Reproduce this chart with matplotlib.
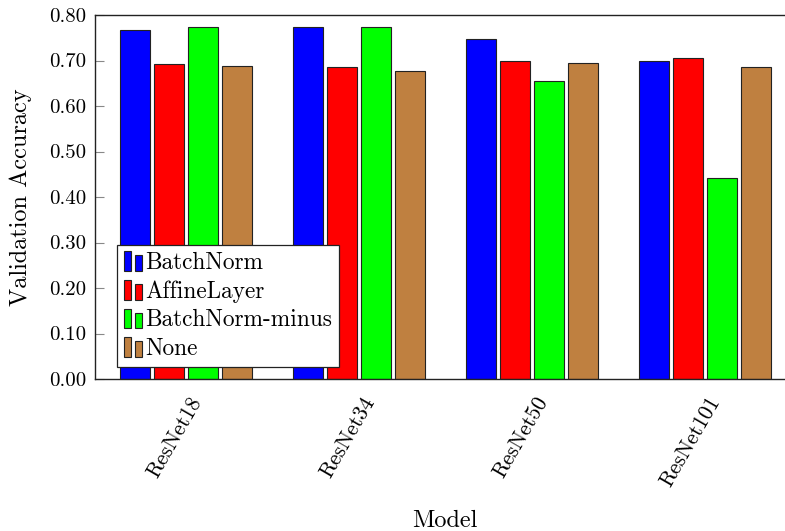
import matplotlib
matplotlib.use("Agg")
import matplotlib.pyplot as plt
import numpy as np
from matplotlib.patches import Rectangle
from matplotlib.legend_handler import HandlerBase
from matplotlib.transforms import ScaledTranslation

plt.rcParams['font.family'] = ['cmr10', 'DejaVu Serif']
plt.rcParams['axes.formatter.use_mathtext'] = True

models = ["ResNet18", "ResNet34", "ResNet50", "ResNet101"]
series_names = ["BatchNorm", "AffineLayer", "BatchNorm-minus", "None"]
batchnorm = [0.768, 0.773, 0.748, 0.698]
affine = [0.692, 0.686, 0.700, 0.705]
bn_minus = [0.774, 0.773, 0.656, 0.442]
none = [0.689, 0.678, 0.695, 0.686]
yticks = [0.0, 0.1, 0.2, 0.3, 0.4, 0.5, 0.6, 0.7, 0.8]
colors = ["#0000ff", "#ff0000", "#00ff00", "#bf8040"]

series = [batchnorm, affine, bn_minus, none]

fig = plt.figure(figsize=(7.85, 5.31), dpi=100)
ax = fig.add_axes([95/785, 1-379/531, (796-95)/785, (379-15)/531])

x = np.arange(len(models))
offset = 0.1965
width = 0.178
handles = []
for i, (vals, name, c) in enumerate(zip(series, series_names, colors)):
    b = ax.bar(x + (i-1.5)*offset, vals, width, color=c, edgecolor='#222222',
               linewidth=0.8, label=name, zorder=2)
    handles.append(b)

ax.set_xlim(-0.526, 3.526)
ax.set_ylim(0, 0.8)
ax.set_yticks(yticks)
ax.set_yticklabels([f"{v:.2f}" for v in yticks], fontsize=15)
ax.set_xticks(x)
ax.set_xticklabels(models, fontsize=15.5, rotation=60, ha='right', va='center',
                   rotation_mode='anchor')
ax.tick_params(axis='x', length=0, pad=14)
ax.tick_params(axis='y', direction='in', length=6.5, color='#888888', width=0.8, pad=6)
for lab in ax.get_xticklabels():
    lab.set_transform(lab.get_transform() + ScaledTranslation(11/100, 0, fig.dpi_scale_trans))
for s in ['left', 'top', 'bottom', 'right']:
    ax.spines[s].set_linewidth(1.0)
    ax.spines[s].set_color('#222222')

ax.set_ylabel("Validation Accuracy", fontsize=17.5)
ax.yaxis.set_label_coords((32-95)/701, 0.5)
fig.text(445/785, 1-521/531, "Model", fontsize=17.5, ha='center', va='center')


class TwoBarHandler(HandlerBase):
    def create_artists(self, legend, orig_handle, xdescent, ydescent, width,
                       height, fontsize, trans):
        patch = orig_handle.patches[0]
        fc = patch.get_facecolor()
        w = width * 0.35
        h = height * 1.2
        y0 = -ydescent - height * 0.12
        r1 = Rectangle((-xdescent, y0), w, h, facecolor=fc, edgecolor='#222222',
                       linewidth=0.8, transform=trans)
        r2 = Rectangle((-xdescent + w + width * 0.25, y0), w, h * 0.8,
                       facecolor=fc, edgecolor='#222222', linewidth=0.8, transform=trans)
        return [r1, r2]


leg = ax.legend(handles, series_names, loc='lower left',
                bbox_to_anchor=(22/701, 12/364), fontsize=16.8,
                handler_map={type(handles[0]): TwoBarHandler()},
                handlelength=0.8, handletextpad=0.12, labelspacing=0.28,
                borderpad=0.3, borderaxespad=0, fancybox=False, framealpha=1,
                edgecolor='#222222')
leg.get_frame().set_linewidth(0.9)
leg.set_zorder(5)

fig.savefig("out.png", dpi=100)
